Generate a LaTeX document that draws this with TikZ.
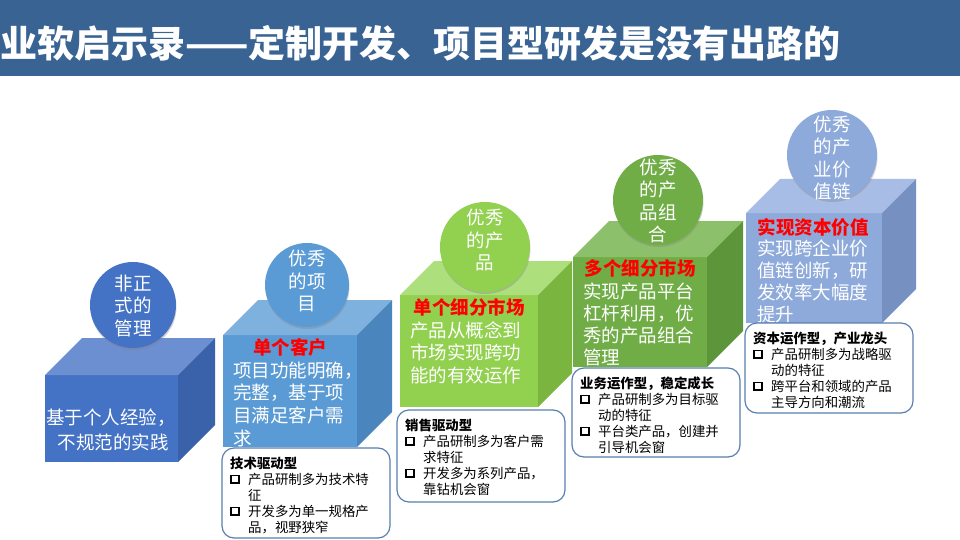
\documentclass[tikz,border=0pt]{standalone}
\usepackage{fontspec}
\setmainfont{Noto Sans CJK SC}
\usetikzlibrary{fit,shadows}
\definecolor{barblue}{HTML}{386393}
\definecolor{fA}{HTML}{4472C4}\definecolor{tA}{HTML}{6C8FD2}\definecolor{sA}{HTML}{3A62AB}
\definecolor{fB}{HTML}{5B9BD5}\definecolor{tB}{HTML}{7FB1DF}\definecolor{sB}{HTML}{4A85BD}
\definecolor{fC}{HTML}{92D050}\definecolor{tC}{HTML}{ADDF7D}\definecolor{sC}{HTML}{7AB540}
\definecolor{fD}{HTML}{70AD47}\definecolor{tD}{HTML}{8DC06A}\definecolor{sD}{HTML}{5C953A}
\definecolor{fE}{HTML}{8EAADB}\definecolor{tE}{HTML}{A7BDE5}\definecolor{sE}{HTML}{7790C2}
\definecolor{boxline}{HTML}{5A7FB0}
\definecolor{hred}{HTML}{FF0000}
\newcommand\mycube[8]{%
  \fill[#6] (#1,#2) rectangle (#3,#4);
  \fill[#7] (#1,#2) -- (#1+#5,#2-#5) -- (#3+#5,#2-#5) -- (#3,#2) -- cycle;
  \fill[#8] (#3,#2) -- (#3+#5,#2-#5) -- (#3+#5,#4-#5) -- (#3,#4) -- cycle;}
\newcommand\ctext[5]{%
  \foreach[count=\i] \t in {#5} {\node[ftxt] (#1\i) at (#2,{#3+#4*(\i-1)}) {\t};}}
\newcommand\cbox[7]{%
  \node[callbox, fit={(#2,#3) (#4,#5)}] (#1) {};
  \node[chead] (#1h) at (#2+8,#3+20) {#6};
  \foreach[count=\i] \b/\t in {#7} {%
    \node[ctxt] (#1l\i) at (#2+26,{#3+20+16*\i}) {\t};
    \ifnum\b=1 \node[bsq] (#1s\i) at (#2+13,{#3+20+16*\i-4.8}) {};\fi}}
\begin{document}
\begin{tikzpicture}[x=1pt,y=-1pt,
  ftxt/.style={anchor=base west, inner sep=0, text=white, font=\fontsize{18.5}{22}\selectfont},
  redh/.style={anchor=base, inner sep=0, text=hred, font=\bfseries\fontsize{18.5}{22}\selectfont},
  circ/.style={circle, inner sep=0, minimum size=#1, drop shadow={opacity=0.35, shadow xshift=0.5pt, shadow yshift=-2pt}},
  ctext/.style={inner sep=0, text=white, align=center, font=\fontsize{18.5}{22.5}\selectfont},
  callbox/.style={draw=boxline, line width=1.2pt, fill=white, rounded corners=12pt, inner sep=0},
  ctxt/.style={anchor=base west, inner sep=0, text=black, font=\fontsize{13.4}{16}\selectfont},
  chead/.style={anchor=base west, inner sep=0, text=black, font=\bfseries\fontsize{13.4}{16}\selectfont},
  bsq/.style={draw=black, fill=white, line width=1.7pt, minimum size=7.5pt, inner sep=0}]
\useasboundingbox (0,0) rectangle (960,540);
\fill[white] (0,0) rectangle (960,540);
% title bar
\fill[barblue] (0,0) rectangle (960,76);
\node[anchor=base west, inner sep=0, text=white, font=\bfseries\fontsize{37}{40}\selectfont] (title) at (0,58) {业软启示录——定制开发、项目型研发是没有出路的};

% cube 1
\mycube{45}{375}{178}{462}{37}{fA}{tA}{sA}
\node[circ=86pt, fill=fA] (k1) at (133,305) {};
\node[ctext] (k1t) at (133,306) {非正\\式的\\管理};
\node[ftxt, anchor=base] (a1) at (111,424) {基于个人经验，};
\node[ftxt, anchor=base] (a2) at (113,449) {不规范的实践};

% cube 2
\mycube{223}{335}{357}{447}{35}{fB}{tB}{sB}
\node[circ=84pt, fill=fB] (k2) at (307,285) {};
\node[ctext] (k2t) at (307,281) {优秀\\的项\\目};
\node[redh] (r2) at (290,354) {单个客户};
\ctext{w2}{233}{377}{22.7}{项目功能明确，,完整，基于项,目满足客户需,求}
\cbox{b2}{222}{448}{390}{538}{技术驱动型}{1/产品研制多为技术特,0/征,1/开发多为单一规格产,0/品，视野狭窄}

% cube 3
\mycube{400}{295}{538}{407}{34}{fC}{tC}{sC}
\node[circ=90pt, fill=fC] (k3) at (485,247) {};
\node[ctext] (k3t) at (485,240) {优秀\\的产\\品};
\node[redh] (r3) at (469,314) {单个细分市场};
\ctext{w3}{410}{337}{22.7}{产品从概念到,市场实现跨功,能的有效运作}
\cbox{b3}{397}{410}{565}{502}{销售驱动型}{1/产品研制多为客户需,0/求特征,1/开发多为系列产品，,0/靠钻机会窗}

% cube 4
\mycube{573}{257}{707}{367}{36}{fD}{tD}{sD}
\node[circ=90pt, fill=fD] (k4) at (658,200) {};
\node[ctext] (k4t) at (658,201) {优秀\\的产\\品组\\合};
\node[redh] (r4) at (640,275) {多个细分市场};
\ctext{w4}{583}{298}{22}{实现产品平台,杠杆利用，优,秀的产品组合,管理}
\cbox{b4}{572}{368}{740}{457}{业务运作型，稳定成长}{1/产品研制多为目标驱,0/动的特征,1/平台类产品，创建并,0/引导机会窗}

% cube 5
\mycube{746}{213}{882}{323}{34}{fE}{tE}{sE}
\node[circ=90pt, fill=fE] (k5) at (832,155) {};
\node[ctext] (k5t) at (832,158) {优秀\\的产\\业价\\值链};
\node[redh] (r5) at (813,234) {实现资本价值};
\ctext{w5}{757}{255}{22}{实现跨企业价,值链创新，研,发效率大幅度,提升}
\cbox{b5}{745}{323}{913}{413}{资本运作型，产业龙头}{1/产品研制多为战略驱,0/动的特征,1/跨平台和领域的产品,0/主导方向和潮流}
\end{tikzpicture}
\end{document}
